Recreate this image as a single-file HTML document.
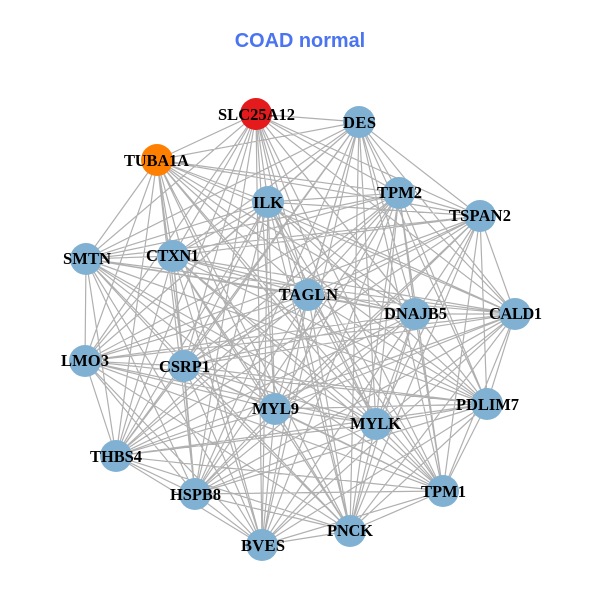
<!DOCTYPE html>
<html><head><meta charset="utf-8"><style>html,body{margin:0;padding:0;background:#fff}svg{display:block}
.t{font-family:"Liberation Serif",serif;font-weight:bold;font-size:16.5px;fill:#000;text-anchor:middle}
</style></head><body>
<svg width="600" height="600" viewBox="0 0 600 600" xmlns="http://www.w3.org/2000/svg">
<rect width="600" height="600" fill="#fff"/>
<text x="300" y="47" text-anchor="middle" style="font-family:'Liberation Sans',sans-serif;font-weight:bold;font-size:19.9px;fill:#4a74f0">COAD normal</text>
<path fill="none" stroke="#b0b0b0" stroke-width="1.2" d="
M256 114L359 122M256 114L157 160M256 114L268 202M256 114L399 193M256 114L480 216M256 114L173 256M256 114L86 259M256 114L308 295M256 114L415 314M256 114L515 314M256 114L85 361M256 114L184 366M256 114L275 409M256 114L376 424M256 114L487 404M256 114L116 456M256 114L195 494M256 114L443 491M256 114L350 531M256 114L262 545
M359 122L157 160M359 122L268 202M359 122L399 193M359 122L480 216M359 122L173 256M359 122L86 259M359 122L308 295M359 122L415 314M359 122L515 314M359 122L85 361M359 122L184 366M359 122L275 409M359 122L376 424M359 122L487 404M359 122L116 456M359 122L195 494M359 122L443 491M359 122L350 531M359 122L262 545
M157 160L268 202M157 160L399 193M157 160L480 216M157 160L173 256M157 160L86 259M157 160L308 295M157 160L415 314M157 160L515 314M157 160L85 361M157 160L184 366M157 160L275 409M157 160L376 424M157 160L487 404M157 160L116 456M157 160L195 494M157 160L443 491M157 160L350 531M157 160L262 545
M268 202L399 193M268 202L480 216M268 202L173 256M268 202L86 259M268 202L308 295M268 202L415 314M268 202L515 314M268 202L85 361M268 202L184 366M268 202L275 409M268 202L376 424M268 202L487 404M268 202L116 456M268 202L195 494M268 202L443 491M268 202L350 531M268 202L262 545
M399 193L480 216M399 193L173 256M399 193L86 259M399 193L308 295M399 193L415 314M399 193L515 314M399 193L85 361M399 193L184 366M399 193L275 409M399 193L376 424M399 193L487 404M399 193L116 456M399 193L195 494M399 193L443 491M399 193L350 531M399 193L262 545
M480 216L173 256M480 216L86 259M480 216L308 295M480 216L415 314M480 216L515 314M480 216L85 361M480 216L184 366M480 216L275 409M480 216L376 424M480 216L487 404M480 216L116 456M480 216L195 494M480 216L443 491M480 216L350 531M480 216L262 545
M173 256L86 259M173 256L308 295M173 256L415 314M173 256L515 314M173 256L85 361M173 256L184 366M173 256L275 409M173 256L376 424M173 256L487 404M173 256L116 456M173 256L195 494M173 256L443 491M173 256L350 531M173 256L262 545
M86 259L308 295M86 259L415 314M86 259L515 314M86 259L85 361M86 259L184 366M86 259L275 409M86 259L376 424M86 259L487 404M86 259L116 456M86 259L195 494M86 259L443 491M86 259L350 531M86 259L262 545
M308 295L415 314M308 295L515 314M308 295L85 361M308 295L184 366M308 295L275 409M308 295L376 424M308 295L487 404M308 295L116 456M308 295L195 494M308 295L443 491M308 295L350 531M308 295L262 545
M415 314L515 314M415 314L85 361M415 314L184 366M415 314L275 409M415 314L376 424M415 314L487 404M415 314L116 456M415 314L195 494M415 314L443 491M415 314L350 531M415 314L262 545
M515 314L85 361M515 314L184 366M515 314L275 409M515 314L376 424M515 314L487 404M515 314L116 456M515 314L195 494M515 314L443 491M515 314L350 531M515 314L262 545
M85 361L184 366M85 361L275 409M85 361L376 424M85 361L487 404M85 361L116 456M85 361L195 494M85 361L443 491M85 361L350 531M85 361L262 545
M184 366L275 409M184 366L376 424M184 366L487 404M184 366L116 456M184 366L195 494M184 366L443 491M184 366L350 531M184 366L262 545
M275 409L376 424M275 409L487 404M275 409L116 456M275 409L195 494M275 409L443 491M275 409L350 531M275 409L262 545
M376 424L487 404M376 424L116 456M376 424L195 494M376 424L443 491M376 424L350 531M376 424L262 545
M487 404L116 456M487 404L195 494M487 404L443 491M487 404L350 531M487 404L262 545
M116 456L195 494M116 456L443 491M116 456L350 531M116 456L262 545
M195 494L443 491M195 494L350 531M195 494L262 545
M443 491L350 531M443 491L262 545
M350 531L262 545"/>
<g fill="#80b1d3">
<circle cx="359" cy="122" r="16"/><circle cx="268" cy="202" r="16"/><circle cx="399" cy="193" r="16"/><circle cx="480" cy="216" r="16"/><circle cx="173" cy="256" r="16"/><circle cx="86" cy="259" r="16"/><circle cx="308" cy="295" r="16"/><circle cx="415" cy="314" r="16"/><circle cx="515" cy="314" r="16"/><circle cx="85" cy="361" r="16"/><circle cx="184" cy="366" r="16"/><circle cx="275" cy="409" r="16"/><circle cx="376" cy="424" r="16"/><circle cx="487" cy="404" r="16"/><circle cx="116" cy="456" r="16"/><circle cx="195" cy="494" r="16"/><circle cx="443" cy="491" r="16"/><circle cx="350" cy="531" r="16"/><circle cx="262" cy="545" r="16"/>
</g>
<circle cx="256" cy="114" r="16" fill="#e41a1c"/>
<circle cx="157" cy="160" r="16" fill="#ff7f00"/>
<g class="l">
<text class="t" x="256.5" y="120" textLength="77">SLC25A12</text>
<text class="t" x="359.5" y="128" textLength="33">DES</text>
<text class="t" x="156.5" y="166" textLength="65">TUBA1A</text>
<text class="t" x="268" y="208" textLength="30">ILK</text>
<text class="t" x="399.5" y="198" textLength="45">TPM2</text>
<text class="t" x="480" y="221" textLength="62">TSPAN2</text>
<text class="t" x="172.5" y="261" textLength="53">CTXN1</text>
<text class="t" x="87" y="264" textLength="48">SMTN</text>
<text class="t" x="308.5" y="300" textLength="59">TAGLN</text>
<text class="t" x="415.5" y="319" textLength="63">DNAJB5</text>
<text class="t" x="515.5" y="319" textLength="53">CALD1</text>
<text class="t" x="85" y="366" textLength="48">LMO3</text>
<text class="t" x="184.5" y="372" textLength="51">CSRP1</text>
<text class="t" x="275.5" y="414" textLength="47">MYL9</text>
<text class="t" x="375.5" y="429" textLength="51">MYLK</text>
<text class="t" x="487.5" y="410" textLength="63">PDLIM7</text>
<text class="t" x="116" y="462" textLength="52">THBS4</text>
<text class="t" x="195.5" y="500" textLength="51">HSPB8</text>
<text class="t" x="443.5" y="497" textLength="45">TPM1</text>
<text class="t" x="350" y="536" textLength="46">PNCK</text>
<text class="t" x="263" y="551" textLength="44">BVES</text>
</g>
</svg>
</body></html>
